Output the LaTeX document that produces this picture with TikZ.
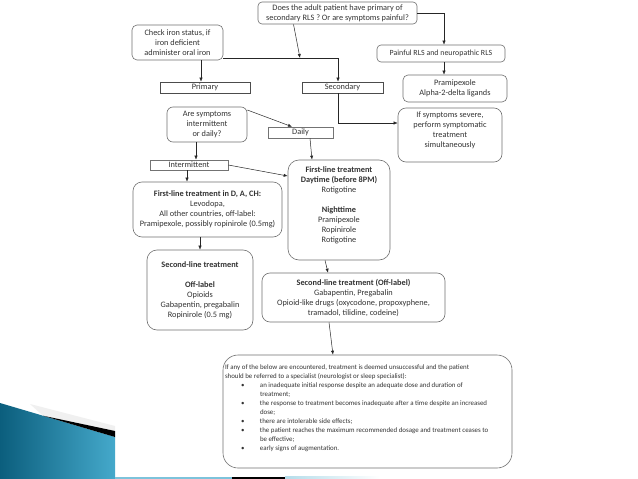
\documentclass[tikz,border=0pt]{standalone}
\usepackage{fontspec}
\setmainfont{Carlito}
\usetikzlibrary{arrows.meta}
\definecolor{txt}{HTML}{333333}
\definecolor{bord}{HTML}{707070}
\definecolor{tealA}{HTML}{0B5E7D}
\definecolor{tealB}{HTML}{45A9CB}
\newcommand{\bitem}{\par\hangindent=35pt\hangafter=1\noindent\hspace*{16pt}\makebox[19pt][l]{\textbullet}}
\begin{document}
\begin{tikzpicture}[x=1pt,y=-1pt,
  base/.style={font=\fontsize{8.3}{10}\selectfont, text=txt, align=center, inner sep=0pt, anchor=center},
  rbox/.style={base, draw=bord, line width=0.6pt, rounded corners=4pt},
  sbox/.style={base, draw=black!70, line width=0.6pt},
  arr/.style={draw=black!85, line width=0.5pt, -{Latex[length=4pt,width=3.2pt]}},
  ln/.style={draw=black!85, line width=0.5pt}]
\fill[white] (0,0) rectangle (638,479);
\useasboundingbox (0,0) rectangle (638,479);

% decoration
\shade[left color=tealA, right color=tealB] (0,403) -- (115,437) -- (115,479) -- (0,479) -- cycle;
\fill[black!6] (30,404) -- (115,426) -- (115,431) -- (43,415.7) -- cycle;
\fill[black] (43,415.7) -- (115,431) -- (115,437) -- cycle;
\fill[tealB!70] (115,476.5) rectangle (232,479);
\fill[black] (232,476.5) rectangle (285,479);
\shade[left color=tealB!40, right color=white] (285,476.5) rectangle (380,479);

% nodes
\node[rbox, minimum width=159pt, minimum height=22pt] (top) at (337.5,13) {Does the adult patient have primary of\\secondary RLS ? Or are symptoms painful?};
\node[rbox, rounded corners=5pt, minimum width=91pt, minimum height=35pt] (iron) at (177.5,42.5) {Check iron status, if\\iron deficient\\administer oral iron};
\node[sbox, minimum width=90pt, minimum height=11pt] (prim) at (205,87.5) {Primary};
\node[sbox, minimum width=81pt, minimum height=11pt] (sec) at (342.5,87.5) {Secondary};
\node[rbox, font=\fontsize{7.9}{10}\selectfont, minimum width=128pt, minimum height=17pt] (pain) at (441,53.5) {Painful RLS and neuropathic RLS};
\node[rbox, rounded corners=5pt, minimum width=104pt, minimum height=27pt] (prami) at (455,88.5) {Pramipexole\\Alpha-2-delta ligands};
\node[rbox, rounded corners=8pt, minimum width=104pt, minimum height=54pt] (sev) at (450,135) {If symptoms severe,\\perform symptomatic\\treatment\\simultaneously\\[0pt]\mbox{}};
\node[rbox, rounded corners=6pt, minimum width=80pt, minimum height=35pt] (are) at (207,124.5) {Are symptoms\\intermittent\\or daily?};
\node[sbox, draw=black!55, minimum width=65pt, minimum height=11pt] (daily) at (300.5,132.5) {Daily};
\node[sbox, draw=black!55, minimum width=78pt, minimum height=10pt] (inter) at (189,165) {Intermittent};
\node[rbox, rounded corners=11pt, minimum width=102pt, minimum height=100pt] (f1r) at (339,210) {\textbf{First-line treatment}\\\textbf{Daytime (before 8PM)}\\Rotigotine\\[10pt]\textbf{Nighttime}\\Pramipexole\\Ropinirole\\Rotigotine\\[0pt]\mbox{}};
\node[rbox, rounded corners=9pt, minimum width=149pt, minimum height=55pt] (f1l) at (207.5,209.5) {\textbf{First-line treatment in D, A, CH:}\\Levodopa,\\All other countries, off-label:\\Pramipexole, possibly ropinirole (0.5mg)};
\node[rbox, rounded corners=10pt, minimum width=106pt, minimum height=80pt] (s2l) at (200,290) {\textbf{Second-line treatment}\\[10pt]\textbf{Off-label}\\Opioids\\Gabapentin, pregabalin\\Ropinirole (0.5 mg)};
\node[rbox, rounded corners=8pt, minimum width=183pt, minimum height=49pt] (s2r) at (353.5,297.5) {\textbf{Second-line treatment (Off-label)}\\Gabapentin, Pregabalin\\Opioid-like drugs (oxycodone, propoxyphene,\\tramadol, tilidine, codeine)};
\node[rbox, rounded corners=15pt, minimum width=289pt, minimum height=113pt, align=left] (fin) at (367.5,411.5) {\parbox[c][106pt][t]{285pt}{\fontsize{6.9}{9}\selectfont
\vspace*{6pt}
If any of the below are encountered, treatment is deemed unsuccessful and the patient\newline
should be referred to a specialist (neurologist or sleep specialist):
\bitem an inadequate initial response despite an adequate dose and duration of\newline treatment;
\bitem the response to treatment becomes inadequate after a time despite an increased\newline dose;
\bitem there are intolerable side effects;
\bitem the patient reaches the maximum recommended dosage and treatment ceases to\newline be effective;
\bitem early signs of augmentation.\par}};

% helper coordinates
\coordinate (j1) at (300,58);
\coordinate (h1) at (338,58);
\coordinate (c1) at (201,0);
\coordinate (c2) at (444,0);
\coordinate (c3) at (0,123);
\coordinate (c4) at (0,110);
\coordinate (c5) at (292,0);
\coordinate (c6) at (196,0);
\coordinate (c7) at (187,0);
\coordinate (c8) at (200,0);
\coordinate (c9) at (0,176);

% connectors
\draw[arr] ([xshift=-44pt]top.south) -- (j1);
\draw[arr] (iron.east |- h1) -- (h1) -- (h1 |- sec.north);
\draw[arr] (iron.south -| c1) -- (prim.north -| c1);
\draw[arr] (top.east) -- (top.east -| c2) -- (pain.north -| c2);
\draw[arr] (pain.south -| c2) -- (prami.north -| c2);
\draw[arr] (sec.south -| h1) -- (h1 |- c3) -- (sev.west |- c3);
\draw[arr] (are.east |- c4) -- (daily.north -| c5);
\draw[arr] (are.south -| c6) -- (inter.north -| c6);
\draw[arr] ([xshift=9.5pt]daily.south) -- ([xshift=-27pt]f1r.north);
\draw[arr] (inter.east) -- (f1r.west |- c9);
\draw[arr] (inter.south -| c7) -- (f1l.north -| c7);
\draw[arr] (f1l.south -| c8) -- (s2l.north -| c8);
\draw[arr] ([xshift=-14pt]f1r.south) -- ([xshift=-25.5pt]s2r.north);
\draw[arr] ([xshift=-24.5pt]s2r.south) -- ([xshift=-34.5pt]fin.north);
\end{tikzpicture}
\end{document}
